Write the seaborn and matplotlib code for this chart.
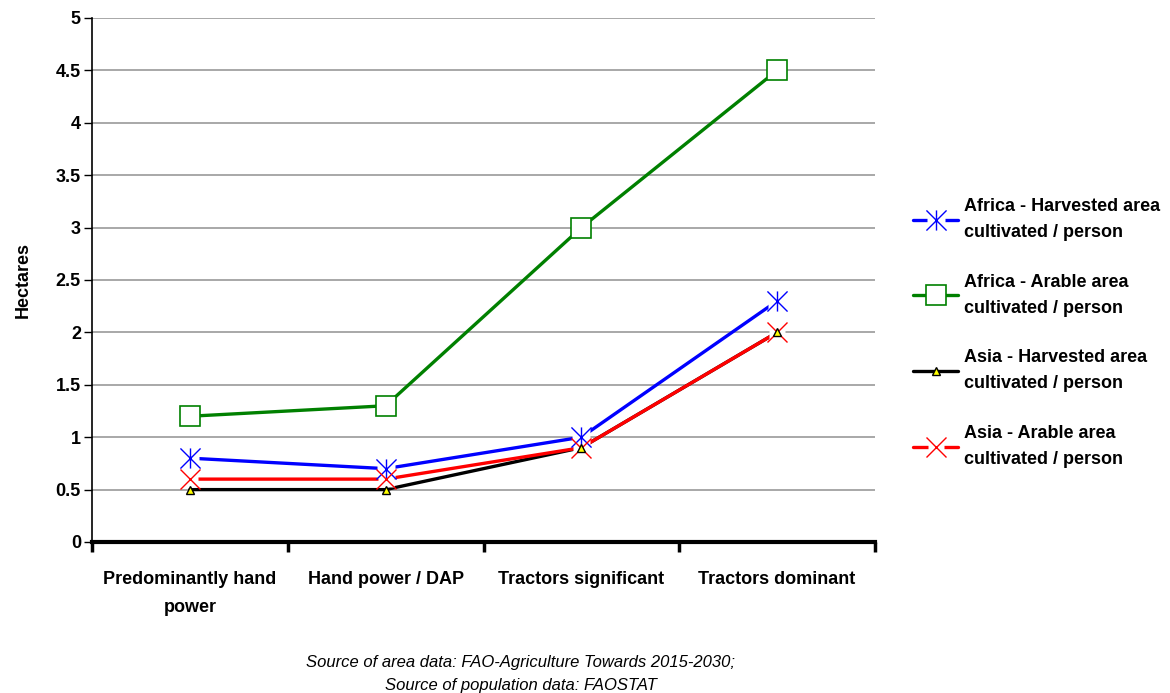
import matplotlib
matplotlib.use("Agg")
import matplotlib.pyplot as plt
from matplotlib.lines import Line2D
from matplotlib.path import Path
from matplotlib.legend_handler import HandlerTuple
import seaborn as sns
import pandas as pd

# Farm power categories and area per person (hectares)
categories = ["Predominantly hand\npower", "Hand power / DAP",
              "Tractors significant", "Tractors dominant"]
africa_harvested = [0.8, 0.7, 1.0, 2.3]
africa_arable = [1.2, 1.3, 3.0, 4.5]
asia_harvested = [0.5, 0.5, 0.9, 2.0]
asia_arable = [0.6, 0.6, 0.9, 2.0]

series_names = ["Africa - Harvested area\ncultivated / person",
                "Africa - Arable area\ncultivated / person",
                "Asia - Harvested area\ncultivated / person",
                "Asia - Arable area\ncultivated / person"]
y_ticks = [0, 0.5, 1, 1.5, 2, 2.5, 3, 3.5, 4, 4.5, 5]

sns.set_style("white")
plt.rcParams["font.family"] = ["Liberation Sans", "DejaVu Sans"]
for key in ["text.color", "axes.labelcolor", "xtick.color", "ytick.color"]:
    plt.rcParams[key] = "black"

fig = plt.figure(figsize=(11.7, 6.93), dpi=100)
ax = fig.add_axes([92 / 1170, 1 - 542 / 693, (875 - 92) / 1170, (542 - 18) / 693])

values = [africa_harvested, africa_arable, asia_harvested, asia_arable]
df = pd.DataFrame({
    "pos": [i for _ in values for i in range(len(categories))],
    "ha": [v for vals in values for v in vals],
    "series": [n for n, vals in zip(series_names, values) for _ in vals],
})

# Asterisk: a vertical stroke crossed by an X
asterisk = Path([(0, -1), (0, 1), (-1, -1), (1, 1), (-1, 1), (1, -1)],
                [Path.MOVETO, Path.LINETO, Path.MOVETO, Path.LINETO,
                 Path.MOVETO, Path.LINETO])

colors = ["#0000ff", "#008000", "#000000", "#ff0000"]
styles = [
    dict(marker=asterisk, ms=14.5, mfc="none", mec="#0000ff", mew=1.0, bg=13, z=4),
    dict(marker="s", ms=14.5, mfc="white", mec="#008000", mew=1.2, bg=0, z=4),
    dict(marker="^", ms=6, mfc="#ffff00", mec="#000000", mew=1.0, bg=0, z=6),
    dict(marker="x", ms=14, mfc="none", mec="#ff0000", mew=1.0, bg=12, z=4),
]
LW = 2.4

# Lines via seaborn
for name, col in zip(series_names, colors):
    sub = df[df["series"] == name]
    sns.lineplot(data=sub, x="pos", y="ha", color=col, lw=LW, ax=ax,
                 zorder=2, legend=False)

# Marker backgrounds and markers
for name, st in zip(series_names, styles):
    sub = df[df["series"] == name]
    if st["bg"]:
        ax.plot(sub["pos"], sub["ha"], ls="none", marker="s", ms=st["bg"],
                mfc="white", mec="none", zorder=3)
    ax.plot(sub["pos"], sub["ha"], ls="none", marker=st["marker"], ms=st["ms"],
            mfc=st["mfc"], mec=st["mec"], mew=st["mew"], zorder=st["z"])

ax.set_xlim(-0.5, len(categories) - 0.5)
ax.set_ylim(0, 5)
ax.set_yticks(y_ticks)
ax.set_yticklabels([f"{t:g}" for t in y_ticks], fontsize=13, fontweight="bold")
ax.set_xticks(range(len(categories)))
ax.set_xticklabels(categories, fontsize=13, fontweight="bold", linespacing=1.85)
ax.tick_params(axis="x", which="major", length=0, pad=21)
ax.set_xticks([-0.5, 0.5, 1.5, 2.5, 3.5], minor=True)
ax.tick_params(axis="x", which="minor", bottom=True, length=7, width=2.5,
               color="black", direction="out")
ax.tick_params(axis="y", length=6, width=1, color="black", direction="out",
               pad=2, left=True)

ax.grid(axis="y", color="#999999", lw=1.2)
ax.set_axisbelow(True)
for s in ["top", "right"]:
    ax.spines[s].set_visible(False)
ax.spines["left"].set_color("black")
ax.spines["left"].set_linewidth(1.2)
ax.spines["bottom"].set_color("black")
ax.spines["bottom"].set_linewidth(3)
ax.spines["bottom"].set_zorder(5)

ax.set_xlabel("")
ax.set_ylabel("Hectares", fontsize=13, fontweight="bold", labelpad=17)

# Legend
handles = []
for col, st in zip(colors, styles):
    parts = [Line2D([], [], color=col, lw=LW)]
    if st["bg"]:
        parts.append(Line2D([], [], ls="none", marker="s", ms=st["bg"],
                            mfc="white", mec="none"))
    parts.append(Line2D([], [], ls="none", marker=st["marker"], ms=st["ms"],
                        mfc=st["mfc"], mec=st["mec"], mew=st["mew"]))
    handles.append(tuple(parts))
leg = fig.legend(handles, series_names,
                 handler_map={tuple: HandlerTuple(ndivide=1, pad=0)},
                 loc="upper left", bbox_to_anchor=(913 / 1170, 1 - 198 / 693),
                 frameon=False, prop=dict(size=13, weight="bold"),
                 handlelength=2.5, handletextpad=0.3, labelspacing=1.8,
                 borderaxespad=0, borderpad=0)
for t in leg.get_texts():
    t.set_linespacing(1.7)

fig.text(521 / 1170, 1 - 674 / 693,
         "Source of area data: FAO-Agriculture Towards 2015-2030;\nSource of population data: FAOSTAT",
         ha="center", va="center", fontsize=12, style="italic", linespacing=1.6)

fig.savefig("out.png", dpi=100)
